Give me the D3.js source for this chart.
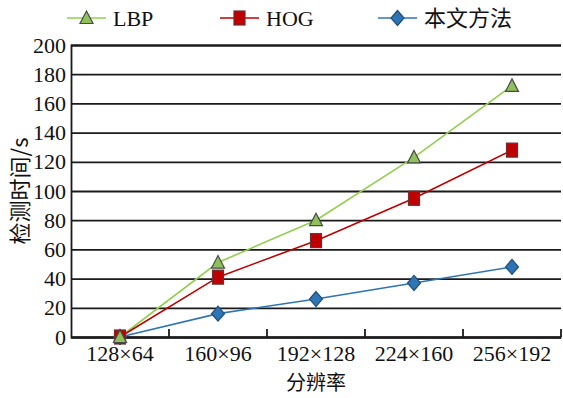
<!DOCTYPE html>
<html><head><meta charset="utf-8">
<script src="https://cdn.jsdelivr.net/npm/d3@7"></script>
<style>body{margin:0;background:#fff}svg{display:block}
.serif{font-family:"Liberation Serif","DejaVu Serif","Times New Roman",serif !important}
.cjk{font-family:"Noto Sans CJK SC","Noto Sans CJK JP",sans-serif !important}
</style>
</head><body>
<svg id="c" width="563" height="398"></svg>
<script>
const categories = ["128×64","160×96","192×128","224×160","256×192"];
const lbp = [0, 51, 80, 123, 172];
const hog = [0, 41, 66, 95, 128];
const ours = [0, 16, 26, 37, 48];
const yTicks = [0,20,40,60,80,100,120,140,160,180,200];
const seriesNames = ["LBP","HOG","本文方法"];

const svg = d3.select("#c");
const L = 71, R = 561, T = 45, B = 337;
const x = d3.scaleBand().domain(categories).range([L, R]).padding(0);
const y = d3.scaleLinear().domain([0, 200]).range([B, T]);

// gridlines + left axis
const ya = svg.append("g").attr("transform", `translate(${L},0)`)
  .call(d3.axisLeft(y).tickValues(yTicks).tickSize(-(R - L)).tickPadding(5).tickFormat(d3.format("d")));
ya.attr("font-family", null).attr("font-size", null);
ya.select(".domain").attr("stroke", "#1a1a1a").attr("stroke-width", 1.8);
ya.selectAll(".tick line").attr("stroke", "#1a1a1a").attr("stroke-width", 1.8);
ya.selectAll(".tick text").attr("class", "serif").attr("font-size", 22).attr("fill", "#111");

// bottom axis
const xa = svg.append("g").attr("transform", `translate(0,${B})`)
  .call(d3.axisBottom(x).tickSize(0).tickPadding(8));
xa.attr("font-family", null).attr("font-size", null);
xa.select(".domain").attr("stroke", "#1a1a1a").attr("stroke-width", 1.8);
xa.selectAll(".tick text").attr("class", "serif").attr("font-size", 22).attr("fill", "#111");
svg.append("g").selectAll("line").data(categories).join("line")
  .attr("x1", d => x(d) + x.bandwidth()).attr("x2", d => x(d) + x.bandwidth())
  .attr("y1", B).attr("y2", B - 8).attr("stroke", "#1a1a1a").attr("stroke-width", 1.8);

// axis titles
svg.append("text").attr("class", "cjk").attr("x", (L + R) / 2).attr("y", 390).attr("text-anchor", "middle")
  .attr("font-size", 20).attr("fill", "#111").text("分辨率");
svg.append("text").attr("class", "cjk").attr("transform", `translate(28,${(T + B) / 2}) rotate(-90)`)
  .attr("text-anchor", "middle").attr("font-size", 22).attr("fill", "#111")
  .text("检测时间/s");

const cx = d => x(d) + x.bandwidth() / 2;
const line = d3.line().x((d, i) => cx(categories[i])).y(d => y(d));

const series = [
  {name: seriesNames[0], data: lbp, line: "#92d050", fill: "#8fc15a", stroke: "#4a4a4a", shape: "tri"},
  {name: seriesNames[1], data: hog, line: "#c00000", fill: "#c00000", stroke: "#6b3030", shape: "sq"},
  {name: seriesNames[2], data: ours, line: "#2e75b6", fill: "#2e75b6", stroke: "#1f4e79", shape: "dia"}
];

function marker(g, shape, fill, stroke) {
  if (shape === "tri") g.append("path").attr("d", "M0,-7L6.5,5.5L-6.5,5.5Z");
  else if (shape === "sq") g.append("rect").attr("x", -5.5).attr("y", -7).attr("width", 11).attr("height", 14);
  else g.append("path").attr("d", "M0,-7.5L6.5,0L0,7.5L-6.5,0Z");
  g.selectAll("*").attr("fill", fill).attr("stroke", stroke).attr("stroke-width", 1.2);
}

series.forEach(s => {
  svg.append("path").datum(s.data).attr("d", line).attr("fill", "none")
    .attr("stroke", s.line).attr("stroke-width", 1.6);
});
[series[2], series[1], series[0]].forEach(s => {
  s.data.forEach((v, i) => {
    const g = svg.append("g").attr("transform", `translate(${cx(categories[i])},${y(v)})`);
    marker(g, s.shape, s.fill, s.stroke);
  });
});

// legend
const legX = [67, 220, 378];
series.forEach((s, i) => {
  const g = svg.append("g").attr("transform", `translate(${legX[i]},18)`);
  g.append("line").attr("x1", 0).attr("x2", 39).attr("y1", 0).attr("y2", 0)
    .attr("stroke", s.line).attr("stroke-width", 1.6);
  const m = g.append("g").attr("transform", "translate(19.5,0)");
  marker(m, s.shape, s.fill, s.stroke);
  g.append("text").attr("class", i === 2 ? "cjk" : "serif").attr("x", 46).attr("y", 0).attr("dy", "0.35em")
    .attr("font-size", 22).attr("fill", "#111").text(s.name);
});
</script>
</body></html>
